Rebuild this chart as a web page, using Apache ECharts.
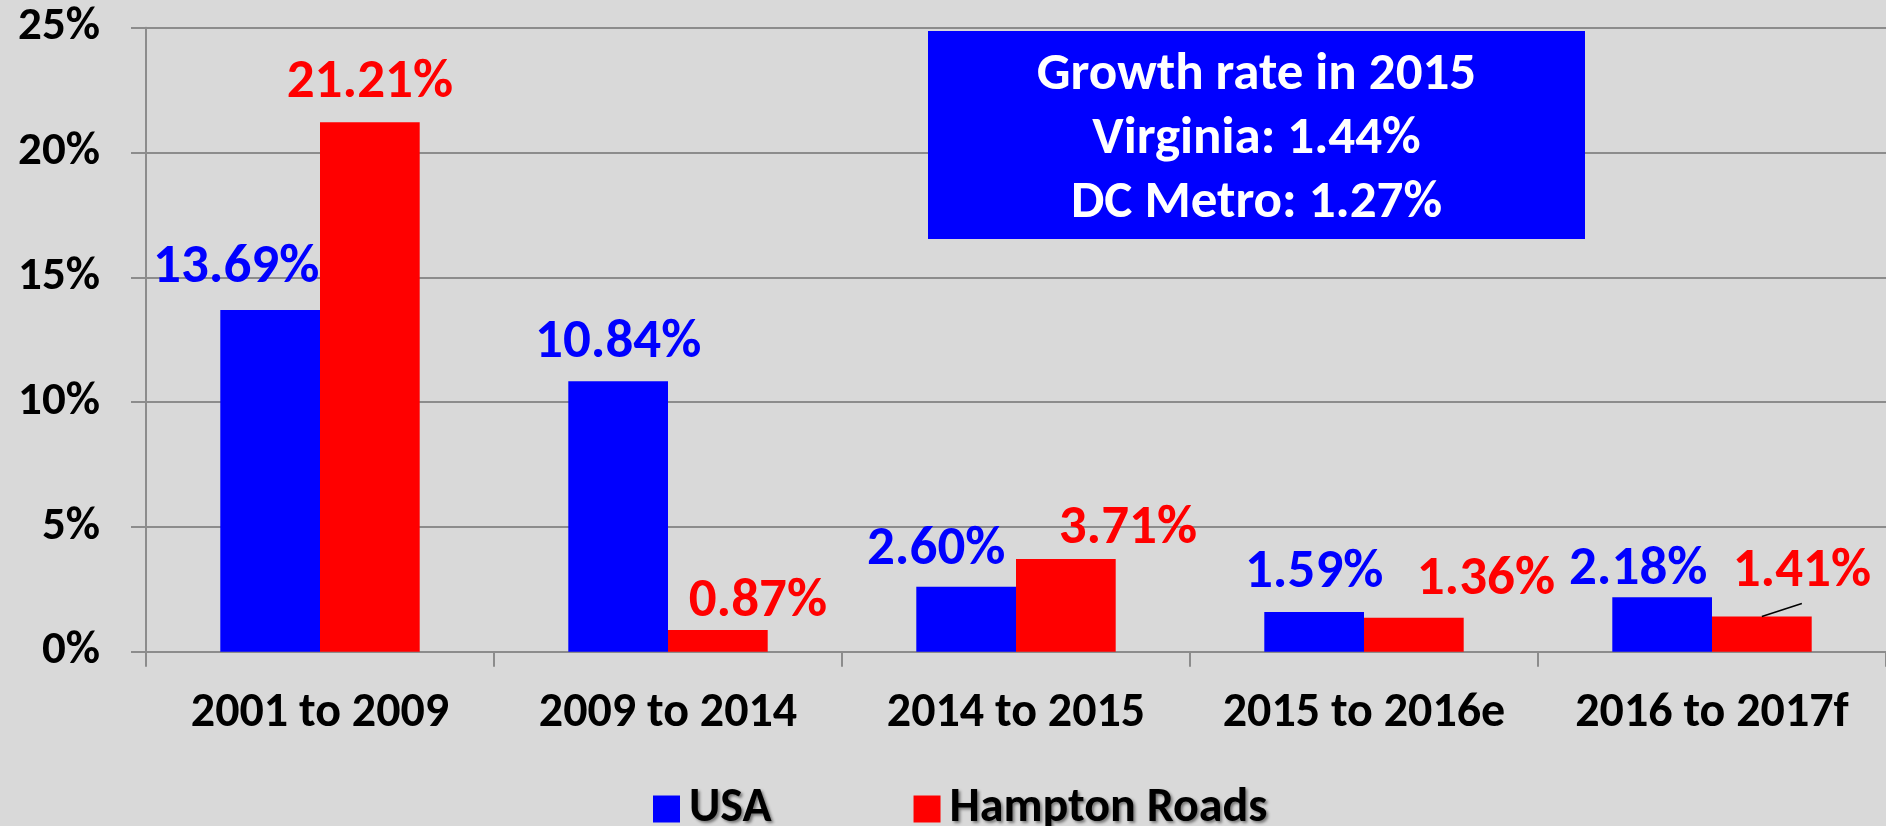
<!DOCTYPE html>
<html>
<head>
<meta charset="utf-8">
<script src="https://cdn.jsdelivr.net/npm/echarts@6/dist/echarts.min.js"></script>
<style>
  html, body { margin: 0; padding: 0; background: #d9d9d9; }
  #chart-container { width: 1886px; height: 826px; }
</style>
</head>
<body>
<div id="chart-container"></div>
<script>
var periods = ['2001 to 2009', '2009 to 2014', '2014 to 2015', '2015 to 2016e', '2016 to 2017f'];
var usaGrowth = [13.69, 10.84, 2.60, 1.59, 2.18];
var hamptonGrowth = [21.21, 0.87, 3.71, 1.36, 1.41];
var yTicks = [0, 5, 10, 15, 20, 25];
var noteLines = ['Growth rate in 2015', 'Virginia: 1.44%', 'DC Metro: 1.27%'];

// labels were hand-placed in the original, keep the nudges apart from the data
var usaNudge = [[-34, -14], [0, -10], [-30, -9], [0, -11], [-24, 0]];
var hamptonNudge = [[0, -12], [40, 0], [62, -2], [72, -10], [40, -17]];

var font = 'Carlito, Lato, sans-serif';

var dom = document.getElementById('chart-container');
var myChart = echarts.init(dom, null, { renderer: 'canvas' });

var option = {
  backgroundColor: '#d9d9d9',
  animation: false,
  textStyle: { fontFamily: font },
  grid: { left: 146, right: -6, top: 27.7, bottom: 174.3 },
  legend: {
    left: 648,
    top: 780,
    itemWidth: 27,
    itemHeight: 27,
    itemGap: 142,
    icon: 'rect',
    textStyle: {
      fontFamily: font,
      fontWeight: 'bold',
      fontSize: 48,
      color: '#000',
      padding: [0, 0, 0, 4],
      textShadowColor: 'rgba(0,0,0,0.45)',
      textShadowBlur: 3,
      textShadowOffsetX: 2,
      textShadowOffsetY: 2
    },
    data: ['USA', 'Hampton Roads']
  },
  xAxis: {
    type: 'category',
    data: periods,
    axisLine: { lineStyle: { color: '#8c8c8c', width: 2 } },
    axisTick: { show: true, interval: 0, length: 15, lineStyle: { color: '#8c8c8c', width: 2 } },
    axisLabel: {
      interval: 0,
      margin: 38,
      fontFamily: font,
      fontWeight: 'bold',
      fontSize: 48,
      color: '#000'
    }
  },
  yAxis: {
    type: 'value',
    min: yTicks[0],
    max: yTicks[yTicks.length - 1],
    interval: 5,
    axisLine: { show: true, lineStyle: { color: '#8c8c8c', width: 2 } },
    axisTick: { show: true, length: 15, lineStyle: { color: '#8c8c8c', width: 2 } },
    splitLine: { lineStyle: { color: '#8c8c8c', width: 2 } },
    axisLabel: {
      margin: 46,
      formatter: '{value}%',
      fontFamily: font,
      fontWeight: 'bold',
      fontSize: 47,
      color: '#000'
    }
  },
  series: [
    {
      name: 'USA',
      type: 'bar',
      data: usaGrowth,
      barGap: '0%',
      barCategoryGap: '42.7%',
      itemStyle: { color: '#0000ff' },
      label: {
        show: true,
        position: 'top',
        distance: 0,
        color: '#0000ff',
        fontFamily: font,
        fontWeight: 'bold',
        fontSize: 55,
        formatter: function (p) { return p.value.toFixed(2) + '%'; }
      },
      labelLayout: function (p) {
        return { dx: usaNudge[p.dataIndex][0], dy: usaNudge[p.dataIndex][1] };
      }
    },
    {
      name: 'Hampton Roads',
      type: 'bar',
      data: hamptonGrowth,
      barGap: '0%',
      barCategoryGap: '42.7%',
      itemStyle: { color: '#ff0000' },
      label: {
        show: true,
        position: 'top',
        distance: 0,
        color: '#ff0000',
        fontFamily: font,
        fontWeight: 'bold',
        fontSize: 55,
        formatter: function (p) { return p.value.toFixed(2) + '%'; }
      },
      labelLayout: function (p) {
        return { dx: hamptonNudge[p.dataIndex][0], dy: hamptonNudge[p.dataIndex][1] };
      }
    }
  ],
  graphic: [
    {
      id: 'noteBox',
      type: 'rect',
      left: 928,
      top: 31,
      shape: { width: 657, height: 208 },
      style: { fill: '#0000ff' },
      z: 10
    },
    {
      id: 'noteText',
      type: 'text',
      x: 1256.5,
      y: 140,
      z: 11,
      style: {
        text: noteLines.join('\n'),
        fill: '#ffffff',
        fontFamily: font,
        fontWeight: 'bold',
        fontSize: 53,
        lineHeight: 64,
        align: 'center',
        verticalAlign: 'middle'
      }
    }
  ]
};

myChart.setOption(option);

// leader line from the last Hampton Roads bar to its label
var lastLayout = myChart.getModel().getSeriesByIndex(1).getData().getItemLayout(4);
if (lastLayout) {
  var x0 = lastLayout.x + lastLayout.width / 2;
  var y0 = lastLayout.y + Math.min(lastLayout.height, 0);
  myChart.setOption({
    graphic: [{
      id: 'leader',
      type: 'line',
      z: 12,
      shape: { x1: x0, y1: y0, x2: x0 + 40, y2: y0 - 13 },
      style: { stroke: '#000', lineWidth: 1.5 }
    }]
  });
}

window.addEventListener('resize', myChart.resize);
</script>
</body>
</html>
